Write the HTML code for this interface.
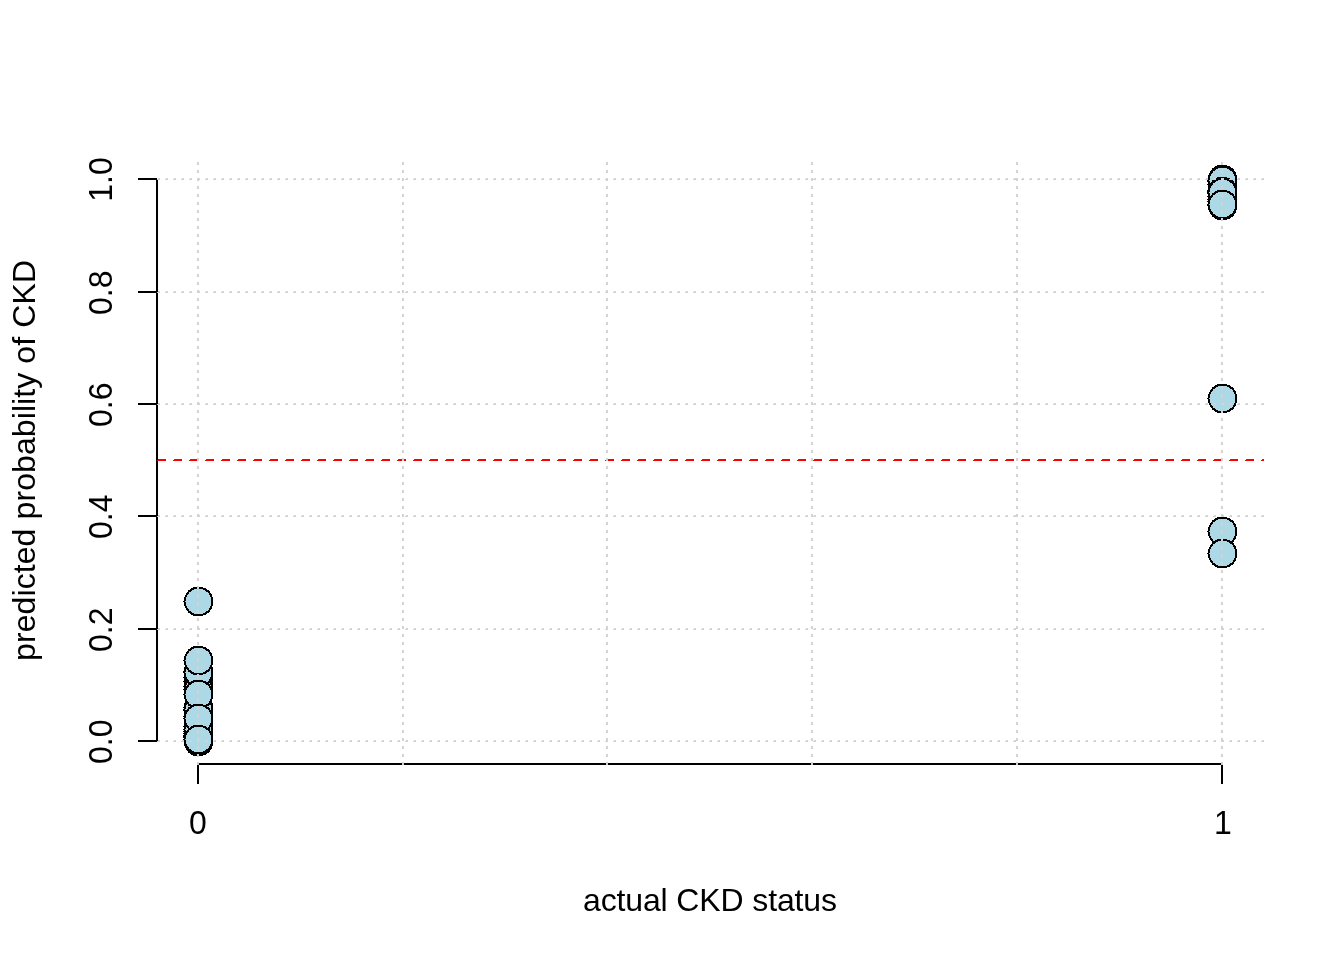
<!DOCTYPE html>
<html lang="en">
<head>
<meta charset="utf-8">
<title>Predicted probability of CKD vs actual CKD status</title>
<style>
html,body{margin:0;padding:0;background:#fff;}
body{width:1344px;height:960px;overflow:hidden;font-family:"Liberation Sans",Arial,sans-serif;}
svg{display:block;}
text{font-family:"Liberation Sans",Arial,sans-serif;font-size:32px;fill:#000;}
.ax{stroke:#000;stroke-width:2;fill:none;shape-rendering:crispEdges;}
.gv{stroke:#d3d3d3;stroke-width:2;fill:none;stroke-dasharray:3 5;shape-rendering:crispEdges;}
.gh1{stroke:#d3d3d3;stroke-width:1;fill:none;stroke-dasharray:2 6;shape-rendering:crispEdges;}
.gh2{stroke:#d3d3d3;stroke-width:1;fill:none;stroke-dasharray:3 5;shape-rendering:crispEdges;}
.th1{stroke:#f00;stroke-width:1;fill:none;stroke-dasharray:8 8;shape-rendering:crispEdges;}
.th2{stroke:#f00;stroke-width:1;fill:none;stroke-dasharray:9 7;shape-rendering:crispEdges;}
.po{fill:#000;shape-rendering:crispEdges;}
.pf{fill:#add8e6;shape-rendering:crispEdges;}
</style>
</head>
<body>
<svg width="1344" height="960" viewBox="0 0 1344 960">
<rect x="0" y="0" width="1344" height="960" fill="#fff"/>
<g class="axes">
<path class="ax" d="M197 764H1223M198 764V784M1222 764V784"/>
<path class="ax" d="M157 742V180M157 741H138M157 629H138M157 516H138M157 404H138M157 292H138M157 179H138"/>
</g>
<g class="points">
<g transform="translate(198 601)"><path class="po" d="M5 -14v1h3v1h1v1h2v1h1v2h1v1h1v3h1v9h-1v3h-1v1h-1v2h-1v1h-2v1h-1v1h-3v1h-10v-1h-2v-1h-1v-1h-2v-2h-1v-1h-1v-2h-1v-2h-1v-9h1v-2h1v-2h1v-1h1v-2h2v-1h1v-1h2v-1zM-15 0h1v1h-1z"/><path class="pf" d="M5 -12v1h2v1h1v1h2v1h1v2h1v2h1v9h-1v2h-1v2h-1v1h-2v1h-1v1h-2v1h-9v-1h-2v-1h-1v-1h-2v-2h-1v-1h-1v-2h-1v-9h1v-2h1v-1h1v-2h2v-1h1v-1h2v-1zM-13 0h1v1h-1z"/></g>
<g transform="translate(198 686)"><path class="po" d="M5 -14v1h3v1h1v1h2v1h1v2h1v1h1v3h1v9h-1v3h-1v1h-1v2h-1v1h-2v1h-1v1h-3v1h-10v-1h-2v-1h-1v-1h-2v-2h-1v-1h-1v-2h-1v-2h-1v-9h1v-2h1v-2h1v-1h1v-2h2v-1h1v-1h2v-1zM-15 0h1v1h-1z"/><path class="pf" d="M5 -12v1h2v1h1v1h2v1h1v2h1v2h1v9h-1v2h-1v2h-1v1h-2v1h-1v1h-2v1h-9v-1h-2v-1h-1v-1h-2v-2h-1v-1h-1v-2h-1v-9h1v-2h1v-1h1v-2h2v-1h1v-1h2v-1zM-13 0h1v1h-1z"/></g>
<g transform="translate(198 681)"><path class="po" d="M5 -14v1h3v1h1v1h2v1h1v2h1v1h1v3h1v9h-1v3h-1v1h-1v2h-1v1h-2v1h-1v1h-3v1h-10v-1h-2v-1h-1v-1h-2v-2h-1v-1h-1v-2h-1v-2h-1v-9h1v-2h1v-2h1v-1h1v-2h2v-1h1v-1h2v-1zM-15 0h1v1h-1z"/><path class="pf" d="M5 -12v1h2v1h1v1h2v1h1v2h1v2h1v9h-1v2h-1v2h-1v1h-2v1h-1v1h-2v1h-9v-1h-2v-1h-1v-1h-2v-2h-1v-1h-1v-2h-1v-9h1v-2h1v-1h1v-2h2v-1h1v-1h2v-1zM-13 0h1v1h-1z"/></g>
<g transform="translate(198 677)"><path class="po" d="M5 -14v1h3v1h1v1h2v1h1v2h1v1h1v3h1v9h-1v3h-1v1h-1v2h-1v1h-2v1h-1v1h-3v1h-10v-1h-2v-1h-1v-1h-2v-2h-1v-1h-1v-2h-1v-2h-1v-9h1v-2h1v-2h1v-1h1v-2h2v-1h1v-1h2v-1zM-15 0h1v1h-1z"/><path class="pf" d="M5 -12v1h2v1h1v1h2v1h1v2h1v2h1v9h-1v2h-1v2h-1v1h-2v1h-1v1h-2v1h-9v-1h-2v-1h-1v-1h-2v-2h-1v-1h-1v-2h-1v-9h1v-2h1v-1h1v-2h2v-1h1v-1h2v-1zM-13 0h1v1h-1z"/></g>
<g transform="translate(198 689)"><path class="po" d="M5 -14v1h3v1h1v1h2v1h1v2h1v1h1v3h1v9h-1v3h-1v1h-1v2h-1v1h-2v1h-1v1h-3v1h-10v-1h-2v-1h-1v-1h-2v-2h-1v-1h-1v-2h-1v-2h-1v-9h1v-2h1v-2h1v-1h1v-2h2v-1h1v-1h2v-1zM-15 0h1v1h-1z"/><path class="pf" d="M5 -12v1h2v1h1v1h2v1h1v2h1v2h1v9h-1v2h-1v2h-1v1h-2v1h-1v1h-2v1h-9v-1h-2v-1h-1v-1h-2v-2h-1v-1h-1v-2h-1v-9h1v-2h1v-1h1v-2h2v-1h1v-1h2v-1zM-13 0h1v1h-1z"/></g>
<g transform="translate(198 671)"><path class="po" d="M5 -14v1h3v1h1v1h2v1h1v2h1v1h1v3h1v9h-1v3h-1v1h-1v2h-1v1h-2v1h-1v1h-3v1h-10v-1h-2v-1h-1v-1h-2v-2h-1v-1h-1v-2h-1v-2h-1v-9h1v-2h1v-2h1v-1h1v-2h2v-1h1v-1h2v-1zM-15 0h1v1h-1z"/><path class="pf" d="M5 -12v1h2v1h1v1h2v1h1v2h1v2h1v9h-1v2h-1v2h-1v1h-2v1h-1v1h-2v1h-9v-1h-2v-1h-1v-1h-2v-2h-1v-1h-1v-2h-1v-9h1v-2h1v-1h1v-2h2v-1h1v-1h2v-1zM-13 0h1v1h-1z"/></g>
<g transform="translate(198 672)"><path class="po" d="M5 -14v1h3v1h1v1h2v1h1v2h1v1h1v3h1v9h-1v3h-1v1h-1v2h-1v1h-2v1h-1v1h-3v1h-10v-1h-2v-1h-1v-1h-2v-2h-1v-1h-1v-2h-1v-2h-1v-9h1v-2h1v-2h1v-1h1v-2h2v-1h1v-1h2v-1zM-15 0h1v1h-1z"/><path class="pf" d="M5 -12v1h2v1h1v1h2v1h1v2h1v2h1v9h-1v2h-1v2h-1v1h-2v1h-1v1h-2v1h-9v-1h-2v-1h-1v-1h-2v-2h-1v-1h-1v-2h-1v-9h1v-2h1v-1h1v-2h2v-1h1v-1h2v-1zM-13 0h1v1h-1z"/></g>
<g transform="translate(198 737)"><path class="po" d="M5 -14v1h3v1h1v1h2v1h1v2h1v1h1v3h1v9h-1v3h-1v1h-1v2h-1v1h-2v1h-1v1h-3v1h-10v-1h-2v-1h-1v-1h-2v-2h-1v-1h-1v-2h-1v-2h-1v-9h1v-2h1v-2h1v-1h1v-2h2v-1h1v-1h2v-1zM-15 0h1v1h-1z"/><path class="pf" d="M5 -12v1h2v1h1v1h2v1h1v2h1v2h1v9h-1v2h-1v2h-1v1h-2v1h-1v1h-2v1h-9v-1h-2v-1h-1v-1h-2v-2h-1v-1h-1v-2h-1v-9h1v-2h1v-1h1v-2h2v-1h1v-1h2v-1zM-13 0h1v1h-1z"/></g>
<g transform="translate(198 736)"><path class="po" d="M5 -14v1h3v1h1v1h2v1h1v2h1v1h1v3h1v9h-1v3h-1v1h-1v2h-1v1h-2v1h-1v1h-3v1h-10v-1h-2v-1h-1v-1h-2v-2h-1v-1h-1v-2h-1v-2h-1v-9h1v-2h1v-2h1v-1h1v-2h2v-1h1v-1h2v-1zM-15 0h1v1h-1z"/><path class="pf" d="M5 -12v1h2v1h1v1h2v1h1v2h1v2h1v9h-1v2h-1v2h-1v1h-2v1h-1v1h-2v1h-9v-1h-2v-1h-1v-1h-2v-2h-1v-1h-1v-2h-1v-9h1v-2h1v-1h1v-2h2v-1h1v-1h2v-1zM-13 0h1v1h-1z"/></g>
<g transform="translate(198 735)"><path class="po" d="M5 -14v1h3v1h1v1h2v1h1v2h1v1h1v3h1v9h-1v3h-1v1h-1v2h-1v1h-2v1h-1v1h-3v1h-10v-1h-2v-1h-1v-1h-2v-2h-1v-1h-1v-2h-1v-2h-1v-9h1v-2h1v-2h1v-1h1v-2h2v-1h1v-1h2v-1zM-15 0h1v1h-1z"/><path class="pf" d="M5 -12v1h2v1h1v1h2v1h1v2h1v2h1v9h-1v2h-1v2h-1v1h-2v1h-1v1h-2v1h-9v-1h-2v-1h-1v-1h-2v-2h-1v-1h-1v-2h-1v-9h1v-2h1v-1h1v-2h2v-1h1v-1h2v-1zM-13 0h1v1h-1z"/></g>
<g transform="translate(198 733)"><path class="po" d="M5 -14v1h3v1h1v1h2v1h1v2h1v1h1v3h1v9h-1v3h-1v1h-1v2h-1v1h-2v1h-1v1h-3v1h-10v-1h-2v-1h-1v-1h-2v-2h-1v-1h-1v-2h-1v-2h-1v-9h1v-2h1v-2h1v-1h1v-2h2v-1h1v-1h2v-1zM-15 0h1v1h-1z"/><path class="pf" d="M5 -12v1h2v1h1v1h2v1h1v2h1v2h1v9h-1v2h-1v2h-1v1h-2v1h-1v1h-2v1h-9v-1h-2v-1h-1v-1h-2v-2h-1v-1h-1v-2h-1v-9h1v-2h1v-1h1v-2h2v-1h1v-1h2v-1zM-13 0h1v1h-1z"/></g>
<g transform="translate(198 731)"><path class="po" d="M5 -14v1h3v1h1v1h2v1h1v2h1v1h1v3h1v9h-1v3h-1v1h-1v2h-1v1h-2v1h-1v1h-3v1h-10v-1h-2v-1h-1v-1h-2v-2h-1v-1h-1v-2h-1v-2h-1v-9h1v-2h1v-2h1v-1h1v-2h2v-1h1v-1h2v-1zM-15 0h1v1h-1z"/><path class="pf" d="M5 -12v1h2v1h1v1h2v1h1v2h1v2h1v9h-1v2h-1v2h-1v1h-2v1h-1v1h-2v1h-9v-1h-2v-1h-1v-1h-2v-2h-1v-1h-1v-2h-1v-9h1v-2h1v-1h1v-2h2v-1h1v-1h2v-1zM-13 0h1v1h-1z"/></g>
<g transform="translate(198 726)"><path class="po" d="M5 -14v1h3v1h1v1h2v1h1v2h1v1h1v3h1v9h-1v3h-1v1h-1v2h-1v1h-2v1h-1v1h-3v1h-10v-1h-2v-1h-1v-1h-2v-2h-1v-1h-1v-2h-1v-2h-1v-9h1v-2h1v-2h1v-1h1v-2h2v-1h1v-1h2v-1zM-15 0h1v1h-1z"/><path class="pf" d="M5 -12v1h2v1h1v1h2v1h1v2h1v2h1v9h-1v2h-1v2h-1v1h-2v1h-1v1h-2v1h-9v-1h-2v-1h-1v-1h-2v-2h-1v-1h-1v-2h-1v-9h1v-2h1v-1h1v-2h2v-1h1v-1h2v-1zM-13 0h1v1h-1z"/></g>
<g transform="translate(198 729)"><path class="po" d="M5 -14v1h3v1h1v1h2v1h1v2h1v1h1v3h1v9h-1v3h-1v1h-1v2h-1v1h-2v1h-1v1h-3v1h-10v-1h-2v-1h-1v-1h-2v-2h-1v-1h-1v-2h-1v-2h-1v-9h1v-2h1v-2h1v-1h1v-2h2v-1h1v-1h2v-1zM-15 0h1v1h-1z"/><path class="pf" d="M5 -12v1h2v1h1v1h2v1h1v2h1v2h1v9h-1v2h-1v2h-1v1h-2v1h-1v1h-2v1h-9v-1h-2v-1h-1v-1h-2v-2h-1v-1h-1v-2h-1v-9h1v-2h1v-1h1v-2h2v-1h1v-1h2v-1zM-13 0h1v1h-1z"/></g>
<g transform="translate(198 716)"><path class="po" d="M5 -14v1h3v1h1v1h2v1h1v2h1v1h1v3h1v9h-1v3h-1v1h-1v2h-1v1h-2v1h-1v1h-3v1h-10v-1h-2v-1h-1v-1h-2v-2h-1v-1h-1v-2h-1v-2h-1v-9h1v-2h1v-2h1v-1h1v-2h2v-1h1v-1h2v-1zM-15 0h1v1h-1z"/><path class="pf" d="M5 -12v1h2v1h1v1h2v1h1v2h1v2h1v9h-1v2h-1v2h-1v1h-2v1h-1v1h-2v1h-9v-1h-2v-1h-1v-1h-2v-2h-1v-1h-1v-2h-1v-9h1v-2h1v-1h1v-2h2v-1h1v-1h2v-1zM-13 0h1v1h-1z"/></g>
<g transform="translate(198 707)"><path class="po" d="M5 -14v1h3v1h1v1h2v1h1v2h1v1h1v3h1v9h-1v3h-1v1h-1v2h-1v1h-2v1h-1v1h-3v1h-10v-1h-2v-1h-1v-1h-2v-2h-1v-1h-1v-2h-1v-2h-1v-9h1v-2h1v-2h1v-1h1v-2h2v-1h1v-1h2v-1zM-15 0h1v1h-1z"/><path class="pf" d="M5 -12v1h2v1h1v1h2v1h1v2h1v2h1v9h-1v2h-1v2h-1v1h-2v1h-1v1h-2v1h-9v-1h-2v-1h-1v-1h-2v-2h-1v-1h-1v-2h-1v-9h1v-2h1v-1h1v-2h2v-1h1v-1h2v-1zM-13 0h1v1h-1z"/></g>
<g transform="translate(198 710)"><path class="po" d="M5 -14v1h3v1h1v1h2v1h1v2h1v1h1v3h1v9h-1v3h-1v1h-1v2h-1v1h-2v1h-1v1h-3v1h-10v-1h-2v-1h-1v-1h-2v-2h-1v-1h-1v-2h-1v-2h-1v-9h1v-2h1v-2h1v-1h1v-2h2v-1h1v-1h2v-1zM-15 0h1v1h-1z"/><path class="pf" d="M5 -12v1h2v1h1v1h2v1h1v2h1v2h1v9h-1v2h-1v2h-1v1h-2v1h-1v1h-2v1h-9v-1h-2v-1h-1v-1h-2v-2h-1v-1h-1v-2h-1v-9h1v-2h1v-1h1v-2h2v-1h1v-1h2v-1zM-13 0h1v1h-1z"/></g>
<g transform="translate(198 709)"><path class="po" d="M5 -14v1h3v1h1v1h2v1h1v2h1v1h1v3h1v9h-1v3h-1v1h-1v2h-1v1h-2v1h-1v1h-3v1h-10v-1h-2v-1h-1v-1h-2v-2h-1v-1h-1v-2h-1v-2h-1v-9h1v-2h1v-2h1v-1h1v-2h2v-1h1v-1h2v-1zM-15 0h1v1h-1z"/><path class="pf" d="M5 -12v1h2v1h1v1h2v1h1v2h1v2h1v9h-1v2h-1v2h-1v1h-2v1h-1v1h-2v1h-9v-1h-2v-1h-1v-1h-2v-2h-1v-1h-1v-2h-1v-9h1v-2h1v-1h1v-2h2v-1h1v-1h2v-1zM-13 0h1v1h-1z"/></g>
<g transform="translate(198 741)"><path class="po" d="M5 -14v1h3v1h1v1h2v1h1v2h1v1h1v3h1v9h-1v3h-1v1h-1v2h-1v1h-2v1h-1v1h-3v1h-10v-1h-2v-1h-1v-1h-2v-2h-1v-1h-1v-2h-1v-2h-1v-9h1v-2h1v-2h1v-1h1v-2h2v-1h1v-1h2v-1zM-15 0h1v1h-1z"/><path class="pf" d="M5 -12v1h2v1h1v1h2v1h1v2h1v2h1v9h-1v2h-1v2h-1v1h-2v1h-1v1h-2v1h-9v-1h-2v-1h-1v-1h-2v-2h-1v-1h-1v-2h-1v-9h1v-2h1v-1h1v-2h2v-1h1v-1h2v-1zM-13 0h1v1h-1z"/></g>
<g transform="translate(198 740)"><path class="po" d="M5 -14v1h3v1h1v1h2v1h1v2h1v1h1v3h1v9h-1v3h-1v1h-1v2h-1v1h-2v1h-1v1h-3v1h-10v-1h-2v-1h-1v-1h-2v-2h-1v-1h-1v-2h-1v-2h-1v-9h1v-2h1v-2h1v-1h1v-2h2v-1h1v-1h2v-1zM-15 0h1v1h-1z"/><path class="pf" d="M5 -12v1h2v1h1v1h2v1h1v2h1v2h1v9h-1v2h-1v2h-1v1h-2v1h-1v1h-2v1h-9v-1h-2v-1h-1v-1h-2v-2h-1v-1h-1v-2h-1v-9h1v-2h1v-1h1v-2h2v-1h1v-1h2v-1zM-13 0h1v1h-1z"/></g>
<g transform="translate(198 660)"><path class="po" d="M5 -14v1h3v1h1v1h2v1h1v2h1v1h1v3h1v9h-1v3h-1v1h-1v2h-1v1h-2v1h-1v1h-3v1h-10v-1h-2v-1h-1v-1h-2v-2h-1v-1h-1v-2h-1v-2h-1v-9h1v-2h1v-2h1v-1h1v-2h2v-1h1v-1h2v-1zM-15 0h1v1h-1z"/><path class="pf" d="M5 -12v1h2v1h1v1h2v1h1v2h1v2h1v9h-1v2h-1v2h-1v1h-2v1h-1v1h-2v1h-9v-1h-2v-1h-1v-1h-2v-2h-1v-1h-1v-2h-1v-9h1v-2h1v-1h1v-2h2v-1h1v-1h2v-1zM-13 0h1v1h-1z"/></g>
<g transform="translate(198 694)"><path class="po" d="M5 -14v1h3v1h1v1h2v1h1v2h1v1h1v3h1v9h-1v3h-1v1h-1v2h-1v1h-2v1h-1v1h-3v1h-10v-1h-2v-1h-1v-1h-2v-2h-1v-1h-1v-2h-1v-2h-1v-9h1v-2h1v-2h1v-1h1v-2h2v-1h1v-1h2v-1zM-15 0h1v1h-1z"/><path class="pf" d="M5 -12v1h2v1h1v1h2v1h1v2h1v2h1v9h-1v2h-1v2h-1v1h-2v1h-1v1h-2v1h-9v-1h-2v-1h-1v-1h-2v-2h-1v-1h-1v-2h-1v-9h1v-2h1v-1h1v-2h2v-1h1v-1h2v-1zM-13 0h1v1h-1z"/></g>
<g transform="translate(198 718)"><path class="po" d="M5 -14v1h3v1h1v1h2v1h1v2h1v1h1v3h1v9h-1v3h-1v1h-1v2h-1v1h-2v1h-1v1h-3v1h-10v-1h-2v-1h-1v-1h-2v-2h-1v-1h-1v-2h-1v-2h-1v-9h1v-2h1v-2h1v-1h1v-2h2v-1h1v-1h2v-1zM-15 0h1v1h-1z"/><path class="pf" d="M5 -12v1h2v1h1v1h2v1h1v2h1v2h1v9h-1v2h-1v2h-1v1h-2v1h-1v1h-2v1h-9v-1h-2v-1h-1v-1h-2v-2h-1v-1h-1v-2h-1v-9h1v-2h1v-1h1v-2h2v-1h1v-1h2v-1zM-13 0h1v1h-1z"/></g>
<g transform="translate(198 739)"><path class="po" d="M5 -14v1h3v1h1v1h2v1h1v2h1v1h1v3h1v9h-1v3h-1v1h-1v2h-1v1h-2v1h-1v1h-3v1h-10v-1h-2v-1h-1v-1h-2v-2h-1v-1h-1v-2h-1v-2h-1v-9h1v-2h1v-2h1v-1h1v-2h2v-1h1v-1h2v-1zM-15 0h1v1h-1z"/><path class="pf" d="M5 -12v1h2v1h1v1h2v1h1v2h1v2h1v9h-1v2h-1v2h-1v1h-2v1h-1v1h-2v1h-9v-1h-2v-1h-1v-1h-2v-2h-1v-1h-1v-2h-1v-9h1v-2h1v-1h1v-2h2v-1h1v-1h2v-1zM-13 0h1v1h-1z"/></g>
<g transform="translate(1222 531)"><path class="po" d="M5 -14v1h3v1h1v1h2v1h1v2h1v1h1v3h1v9h-1v3h-1v1h-1v2h-1v1h-2v1h-1v1h-3v1h-10v-1h-2v-1h-1v-1h-2v-2h-1v-1h-1v-2h-1v-2h-1v-9h1v-2h1v-2h1v-1h1v-2h2v-1h1v-1h2v-1zM-15 0h1v1h-1z"/><path class="pf" d="M5 -12v1h2v1h1v1h2v1h1v2h1v2h1v9h-1v2h-1v2h-1v1h-2v1h-1v1h-2v1h-9v-1h-2v-1h-1v-1h-2v-2h-1v-1h-1v-2h-1v-9h1v-2h1v-1h1v-2h2v-1h1v-1h2v-1zM-13 0h1v1h-1z"/></g>
<g transform="translate(1222 553)"><path class="po" d="M5 -14v1h3v1h1v1h2v1h1v2h1v1h1v3h1v9h-1v3h-1v1h-1v2h-1v1h-2v1h-1v1h-3v1h-10v-1h-2v-1h-1v-1h-2v-2h-1v-1h-1v-2h-1v-2h-1v-9h1v-2h1v-2h1v-1h1v-2h2v-1h1v-1h2v-1zM-15 0h1v1h-1z"/><path class="pf" d="M5 -12v1h2v1h1v1h2v1h1v2h1v2h1v9h-1v2h-1v2h-1v1h-2v1h-1v1h-2v1h-9v-1h-2v-1h-1v-1h-2v-2h-1v-1h-1v-2h-1v-9h1v-2h1v-1h1v-2h2v-1h1v-1h2v-1zM-13 0h1v1h-1z"/></g>
<g transform="translate(1222 398)"><path class="po" d="M5 -14v1h3v1h1v1h2v1h1v2h1v1h1v3h1v9h-1v3h-1v1h-1v2h-1v1h-2v1h-1v1h-3v1h-10v-1h-2v-1h-1v-1h-2v-2h-1v-1h-1v-2h-1v-2h-1v-9h1v-2h1v-2h1v-1h1v-2h2v-1h1v-1h2v-1zM-15 0h1v1h-1z"/><path class="pf" d="M5 -12v1h2v1h1v1h2v1h1v2h1v2h1v9h-1v2h-1v2h-1v1h-2v1h-1v1h-2v1h-9v-1h-2v-1h-1v-1h-2v-2h-1v-1h-1v-2h-1v-9h1v-2h1v-1h1v-2h2v-1h1v-1h2v-1zM-13 0h1v1h-1z"/></g>
<g transform="translate(1222 181)"><path class="po" d="M5 -14v1h3v1h1v1h2v1h1v2h1v1h1v3h1v9h-1v3h-1v1h-1v2h-1v1h-2v1h-1v1h-3v1h-10v-1h-2v-1h-1v-1h-2v-2h-1v-1h-1v-2h-1v-2h-1v-9h1v-2h1v-2h1v-1h1v-2h2v-1h1v-1h2v-1zM-15 0h1v1h-1z"/><path class="pf" d="M5 -12v1h2v1h1v1h2v1h1v2h1v2h1v9h-1v2h-1v2h-1v1h-2v1h-1v1h-2v1h-9v-1h-2v-1h-1v-1h-2v-2h-1v-1h-1v-2h-1v-9h1v-2h1v-1h1v-2h2v-1h1v-1h2v-1zM-13 0h1v1h-1z"/></g>
<g transform="translate(1222 190)"><path class="po" d="M5 -14v1h3v1h1v1h2v1h1v2h1v1h1v3h1v9h-1v3h-1v1h-1v2h-1v1h-2v1h-1v1h-3v1h-10v-1h-2v-1h-1v-1h-2v-2h-1v-1h-1v-2h-1v-2h-1v-9h1v-2h1v-2h1v-1h1v-2h2v-1h1v-1h2v-1zM-15 0h1v1h-1z"/><path class="pf" d="M5 -12v1h2v1h1v1h2v1h1v2h1v2h1v9h-1v2h-1v2h-1v1h-2v1h-1v1h-2v1h-9v-1h-2v-1h-1v-1h-2v-2h-1v-1h-1v-2h-1v-9h1v-2h1v-1h1v-2h2v-1h1v-1h2v-1zM-13 0h1v1h-1z"/></g>
<g transform="translate(1222 193)"><path class="po" d="M5 -14v1h3v1h1v1h2v1h1v2h1v1h1v3h1v9h-1v3h-1v1h-1v2h-1v1h-2v1h-1v1h-3v1h-10v-1h-2v-1h-1v-1h-2v-2h-1v-1h-1v-2h-1v-2h-1v-9h1v-2h1v-2h1v-1h1v-2h2v-1h1v-1h2v-1zM-15 0h1v1h-1z"/><path class="pf" d="M5 -12v1h2v1h1v1h2v1h1v2h1v2h1v9h-1v2h-1v2h-1v1h-2v1h-1v1h-2v1h-9v-1h-2v-1h-1v-1h-2v-2h-1v-1h-1v-2h-1v-9h1v-2h1v-1h1v-2h2v-1h1v-1h2v-1zM-13 0h1v1h-1z"/></g>
<g transform="translate(1222 184)"><path class="po" d="M5 -14v1h3v1h1v1h2v1h1v2h1v1h1v3h1v9h-1v3h-1v1h-1v2h-1v1h-2v1h-1v1h-3v1h-10v-1h-2v-1h-1v-1h-2v-2h-1v-1h-1v-2h-1v-2h-1v-9h1v-2h1v-2h1v-1h1v-2h2v-1h1v-1h2v-1zM-15 0h1v1h-1z"/><path class="pf" d="M5 -12v1h2v1h1v1h2v1h1v2h1v2h1v9h-1v2h-1v2h-1v1h-2v1h-1v1h-2v1h-9v-1h-2v-1h-1v-1h-2v-2h-1v-1h-1v-2h-1v-9h1v-2h1v-1h1v-2h2v-1h1v-1h2v-1zM-13 0h1v1h-1z"/></g>
<g transform="translate(1222 196)"><path class="po" d="M5 -14v1h3v1h1v1h2v1h1v2h1v1h1v3h1v9h-1v3h-1v1h-1v2h-1v1h-2v1h-1v1h-3v1h-10v-1h-2v-1h-1v-1h-2v-2h-1v-1h-1v-2h-1v-2h-1v-9h1v-2h1v-2h1v-1h1v-2h2v-1h1v-1h2v-1zM-15 0h1v1h-1z"/><path class="pf" d="M5 -12v1h2v1h1v1h2v1h1v2h1v2h1v9h-1v2h-1v2h-1v1h-2v1h-1v1h-2v1h-9v-1h-2v-1h-1v-1h-2v-2h-1v-1h-1v-2h-1v-9h1v-2h1v-1h1v-2h2v-1h1v-1h2v-1zM-13 0h1v1h-1z"/></g>
<g transform="translate(1222 199)"><path class="po" d="M5 -14v1h3v1h1v1h2v1h1v2h1v1h1v3h1v9h-1v3h-1v1h-1v2h-1v1h-2v1h-1v1h-3v1h-10v-1h-2v-1h-1v-1h-2v-2h-1v-1h-1v-2h-1v-2h-1v-9h1v-2h1v-2h1v-1h1v-2h2v-1h1v-1h2v-1zM-15 0h1v1h-1z"/><path class="pf" d="M5 -12v1h2v1h1v1h2v1h1v2h1v2h1v9h-1v2h-1v2h-1v1h-2v1h-1v1h-2v1h-9v-1h-2v-1h-1v-1h-2v-2h-1v-1h-1v-2h-1v-9h1v-2h1v-1h1v-2h2v-1h1v-1h2v-1zM-13 0h1v1h-1z"/></g>
<g transform="translate(1222 201)"><path class="po" d="M5 -14v1h3v1h1v1h2v1h1v2h1v1h1v3h1v9h-1v3h-1v1h-1v2h-1v1h-2v1h-1v1h-3v1h-10v-1h-2v-1h-1v-1h-2v-2h-1v-1h-1v-2h-1v-2h-1v-9h1v-2h1v-2h1v-1h1v-2h2v-1h1v-1h2v-1zM-15 0h1v1h-1z"/><path class="pf" d="M5 -12v1h2v1h1v1h2v1h1v2h1v2h1v9h-1v2h-1v2h-1v1h-2v1h-1v1h-2v1h-9v-1h-2v-1h-1v-1h-2v-2h-1v-1h-1v-2h-1v-9h1v-2h1v-1h1v-2h2v-1h1v-1h2v-1zM-13 0h1v1h-1z"/></g>
<g transform="translate(1222 205)"><path class="po" d="M5 -14v1h3v1h1v1h2v1h1v2h1v1h1v3h1v9h-1v3h-1v1h-1v2h-1v1h-2v1h-1v1h-3v1h-10v-1h-2v-1h-1v-1h-2v-2h-1v-1h-1v-2h-1v-2h-1v-9h1v-2h1v-2h1v-1h1v-2h2v-1h1v-1h2v-1zM-15 0h1v1h-1z"/><path class="pf" d="M5 -12v1h2v1h1v1h2v1h1v2h1v2h1v9h-1v2h-1v2h-1v1h-2v1h-1v1h-2v1h-9v-1h-2v-1h-1v-1h-2v-2h-1v-1h-1v-2h-1v-9h1v-2h1v-1h1v-2h2v-1h1v-1h2v-1zM-13 0h1v1h-1z"/></g>
<g transform="translate(1222 179)"><path class="po" d="M5 -14v1h3v1h1v1h2v1h1v2h1v1h1v3h1v9h-1v3h-1v1h-1v2h-1v1h-2v1h-1v1h-3v1h-10v-1h-2v-1h-1v-1h-2v-2h-1v-1h-1v-2h-1v-2h-1v-9h1v-2h1v-2h1v-1h1v-2h2v-1h1v-1h2v-1zM-15 0h1v1h-1z"/><path class="pf" d="M5 -12v1h2v1h1v1h2v1h1v2h1v2h1v9h-1v2h-1v2h-1v1h-2v1h-1v1h-2v1h-9v-1h-2v-1h-1v-1h-2v-2h-1v-1h-1v-2h-1v-9h1v-2h1v-1h1v-2h2v-1h1v-1h2v-1zM-13 0h1v1h-1z"/></g>
<g transform="translate(1222 180)"><path class="po" d="M5 -14v1h3v1h1v1h2v1h1v2h1v1h1v3h1v9h-1v3h-1v1h-1v2h-1v1h-2v1h-1v1h-3v1h-10v-1h-2v-1h-1v-1h-2v-2h-1v-1h-1v-2h-1v-2h-1v-9h1v-2h1v-2h1v-1h1v-2h2v-1h1v-1h2v-1zM-15 0h1v1h-1z"/><path class="pf" d="M5 -12v1h2v1h1v1h2v1h1v2h1v2h1v9h-1v2h-1v2h-1v1h-2v1h-1v1h-2v1h-9v-1h-2v-1h-1v-1h-2v-2h-1v-1h-1v-2h-1v-9h1v-2h1v-1h1v-2h2v-1h1v-1h2v-1zM-13 0h1v1h-1z"/></g>
<g transform="translate(1222 191)"><path class="po" d="M5 -14v1h3v1h1v1h2v1h1v2h1v1h1v3h1v9h-1v3h-1v1h-1v2h-1v1h-2v1h-1v1h-3v1h-10v-1h-2v-1h-1v-1h-2v-2h-1v-1h-1v-2h-1v-2h-1v-9h1v-2h1v-2h1v-1h1v-2h2v-1h1v-1h2v-1zM-15 0h1v1h-1z"/><path class="pf" d="M5 -12v1h2v1h1v1h2v1h1v2h1v2h1v9h-1v2h-1v2h-1v1h-2v1h-1v1h-2v1h-9v-1h-2v-1h-1v-1h-2v-2h-1v-1h-1v-2h-1v-9h1v-2h1v-1h1v-2h2v-1h1v-1h2v-1zM-13 0h1v1h-1z"/></g>
<g transform="translate(1222 192)"><path class="po" d="M5 -14v1h3v1h1v1h2v1h1v2h1v1h1v3h1v9h-1v3h-1v1h-1v2h-1v1h-2v1h-1v1h-3v1h-10v-1h-2v-1h-1v-1h-2v-2h-1v-1h-1v-2h-1v-2h-1v-9h1v-2h1v-2h1v-1h1v-2h2v-1h1v-1h2v-1zM-15 0h1v1h-1z"/><path class="pf" d="M5 -12v1h2v1h1v1h2v1h1v2h1v2h1v9h-1v2h-1v2h-1v1h-2v1h-1v1h-2v1h-9v-1h-2v-1h-1v-1h-2v-2h-1v-1h-1v-2h-1v-9h1v-2h1v-1h1v-2h2v-1h1v-1h2v-1zM-13 0h1v1h-1z"/></g>
<g transform="translate(1222 204)"><path class="po" d="M5 -14v1h3v1h1v1h2v1h1v2h1v1h1v3h1v9h-1v3h-1v1h-1v2h-1v1h-2v1h-1v1h-3v1h-10v-1h-2v-1h-1v-1h-2v-2h-1v-1h-1v-2h-1v-2h-1v-9h1v-2h1v-2h1v-1h1v-2h2v-1h1v-1h2v-1zM-15 0h1v1h-1z"/><path class="pf" d="M5 -12v1h2v1h1v1h2v1h1v2h1v2h1v9h-1v2h-1v2h-1v1h-2v1h-1v1h-2v1h-9v-1h-2v-1h-1v-1h-2v-2h-1v-1h-1v-2h-1v-9h1v-2h1v-1h1v-2h2v-1h1v-1h2v-1zM-13 0h1v1h-1z"/></g>
</g>
<path class="th1" d="M158 459.5H1264"/>
<path class="th2" d="M157 460.5H1264"/>
<g class="grid">
<path class="gv" d="M198 765V157"/>
<path class="gv" d="M403 765V157"/>
<path class="gv" d="M607 765V157"/>
<path class="gv" d="M812 765V157"/>
<path class="gv" d="M1017 765V157"/>
<path class="gv" d="M1222 765V157"/>
<path class="gh1" d="M158 740.5H1264"/>
<path class="gh2" d="M157 741.5H1264"/>
<path class="gh1" d="M158 628.5H1264"/>
<path class="gh2" d="M157 629.5H1264"/>
<path class="gh1" d="M158 515.5H1264"/>
<path class="gh2" d="M157 516.5H1264"/>
<path class="gh1" d="M158 403.5H1264"/>
<path class="gh2" d="M157 404.5H1264"/>
<path class="gh1" d="M158 291.5H1264"/>
<path class="gh2" d="M157 292.5H1264"/>
<path class="gh1" d="M158 178.5H1264"/>
<path class="gh2" d="M157 179.5H1264"/>
</g>
<g class="labels">
<text transform="translate(198 834) scale(1 1.05)" text-anchor="middle">0</text>
<text transform="translate(1223 834) scale(1 1.05)" text-anchor="middle">1</text>
<text transform="translate(112 741.75) rotate(-90) scale(1 1.05)" text-anchor="middle">0.0</text>
<text transform="translate(112 629.75) rotate(-90) scale(1 1.05)" text-anchor="middle">0.2</text>
<text transform="translate(112 516.75) rotate(-90) scale(1 1.05)" text-anchor="middle">0.4</text>
<text transform="translate(112 404.75) rotate(-90) scale(1 1.05)" text-anchor="middle">0.6</text>
<text transform="translate(112 292.75) rotate(-90) scale(1 1.05)" text-anchor="middle">0.8</text>
<text transform="translate(112 179.5) rotate(-90) scale(1 1.05)" text-anchor="middle">1.0</text>
<text x="710" y="911" text-anchor="middle" textLength="254" lengthAdjust="spacing">actual CKD status</text>
<text transform="translate(35 460.5) rotate(-90)" text-anchor="middle" textLength="401" lengthAdjust="spacing">predicted probability of CKD</text>
</g>
</svg>
</body>
</html>
